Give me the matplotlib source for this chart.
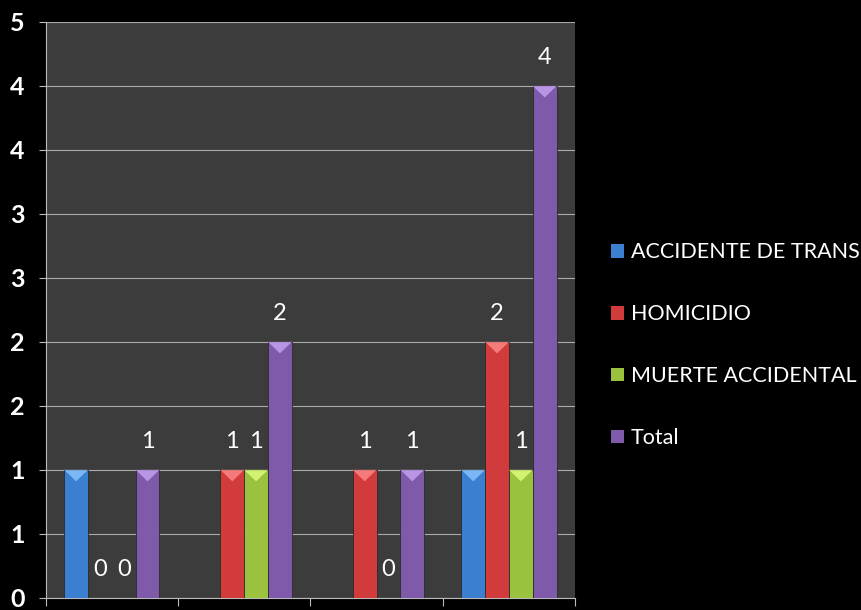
import numpy as np
import matplotlib.pyplot as plt
from matplotlib.patches import Polygon, Patch

# datos
grupos = ['1', '2', '3', '4']
series = ['ACCIDENTE DE TRANS', 'HOMICIDIO', 'MUERTE ACCIDENTAL', 'Total']
accidente = [1, np.nan, np.nan, 1]
homicidio = [0, 1, 1, 2]
muerte = [0, 1, 0, 1]
total = [1, 2, 1, 4]
etiquetas = [False, True, True, True]   # la serie azul no tiene etiquetas
colores = ['#3b7fd1', '#d23b3b', '#9bc23e', '#7f5aab']
claros = ['#8cc4ff', '#ff8a8a', '#e0ff80', '#c8a4f5']

valores = [accidente, homicidio, muerte, total]
yticks = np.arange(0, 4.51, 0.5)

plt.rcParams['font.family'] = ['Lato', 'DejaVu Sans']
fig = plt.figure(figsize=(8.61, 6.10), dpi=100, facecolor='black')
ax = fig.add_axes([0.053, 0.02, 0.615, 0.944])
ax.set_facecolor('#3c3c3c')

x = np.arange(len(grupos))
w = 0.18
for i, (vals, c, cl) in enumerate(zip(valores, colores, claros)):
    pos = x + (i - 1.5) * w
    bars = ax.bar(pos, vals, width=w, color=c, edgecolor='#2a2a2a', linewidth=0.6, zorder=3)
    for b, v in zip(bars, vals):
        if np.isnan(v):
            continue
        h = b.get_height()
        if h > 0:
            x0 = b.get_x()
            bw = b.get_width()
            tri = Polygon([[x0, h], [x0 + bw, h], [x0 + bw / 2, h - 0.09]],
                          closed=True, color=cl, alpha=0.8, zorder=4, lw=0)
            ax.add_patch(tri)
        if etiquetas[i]:
            ax.annotate('%d' % v, (b.get_x() + b.get_width() / 2, h),
                        xytext=(0, 13), textcoords='offset points',
                        ha='center', va='bottom', color='white', fontsize=17)

ax.set_xlim(-0.5, len(grupos) - 0.5)
ax.set_ylim(0, 4.5)
ax.set_yticks(yticks)
ax.set_yticklabels(['%d' % np.floor(t + 0.5) for t in yticks], color='white',
                   fontsize=18, fontweight='bold')
ax.set_xticks(np.arange(len(grupos) + 1) - 0.5)
ax.set_xticklabels([])
ax.tick_params(axis='x', colors='#bbbbbb', length=6, direction='out')
ax.tick_params(axis='y', colors='#bbbbbb', length=5, pad=10, labelcolor='white')
ax.yaxis.grid(True, color='#aaaaaa', linewidth=0.8, zorder=0)
ax.set_axisbelow(True)
for s in ['top', 'right']:
    ax.spines[s].set_visible(False)
ax.spines['left'].set_color('#bbbbbb')
ax.spines['bottom'].set_color('#bbbbbb')

handles = [Patch(facecolor=c, edgecolor='none') for c in colores]
leg = fig.legend(handles, series, loc='center left', bbox_to_anchor=(0.710, 0.434),
                 frameon=False, fontsize=15.5, labelcolor='white', handlelength=0.6,
                 handleheight=0.6, handletextpad=0.3, labelspacing=1.95,
                 borderpad=0, borderaxespad=0)

fig.savefig('out.png', facecolor='black')
